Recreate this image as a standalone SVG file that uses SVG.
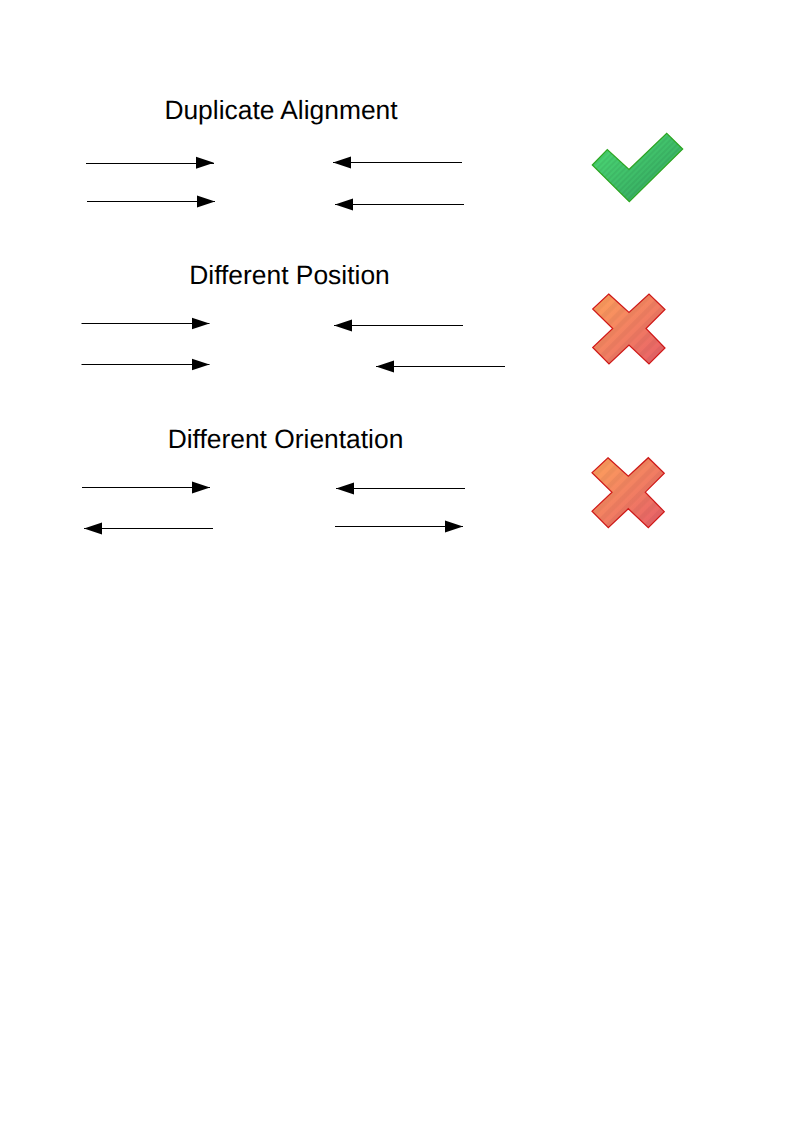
<svg xmlns="http://www.w3.org/2000/svg" width="794" height="1123" viewBox="0 0 794 1123">
<style>
.t{font-family:"Liberation Sans",Arial,sans-serif;font-size:26.400px;fill:#000;text-rendering:geometricPrecision}
.c{stroke:#000;stroke-width:1;fill:none;marker-end:url(#a)}
.c1{marker-end:url(#a1)}
</style>
<defs>
<marker id="a" markerUnits="userSpaceOnUse" markerWidth="20" markerHeight="14" refX="18" refY="7" orient="auto"><path d="M0 1L18 7L0 13Z" fill="#000"/></marker>
<marker id="a1" markerUnits="userSpaceOnUse" markerWidth="20" markerHeight="14" refX="18" refY="7.800" orient="auto"><path d="M0 1L18 7L0 13Z" fill="#000"/></marker>
<linearGradient id="g" gradientUnits="objectBoundingBox" x1="0" y1="0" x2="1" y2="1"><stop offset="0" stop-color="#50e078"/><stop offset="1" stop-color="#2f9f5c"/></linearGradient>
<linearGradient id="r" gradientUnits="objectBoundingBox" x1="0" y1="0" x2="1" y2="1"><stop offset="0" stop-color="#ffa45c"/><stop offset="1" stop-color="#e65c68"/></linearGradient>
<pattern id="p" patternUnits="userSpaceOnUse" width="9" height="9" patternTransform="rotate(45)"><rect width="4.500" height="9" fill="#000" fill-opacity=".045"/></pattern>
<pattern id="q" patternUnits="userSpaceOnUse" width="4" height="4" patternTransform="rotate(45)"><rect width="2" height="4" fill="#000" fill-opacity=".06"/></pattern>
<path id="x" d="M608.700 294L629 312.500L649 294L665 309.500L646 328.500L665 348L649 364L629 345L609 364L592.700 347.500L612.700 328.500L592.700 309Z"/>
</defs>
<rect width="794" height="1123" fill="#fff"/>
<g id="label-duplicate"><text class="t" x="281" y="119" text-anchor="middle">Duplicate Alignment</text></g>
<g id="label-position"><text class="t" x="289.500" y="284" text-anchor="middle">Different Position</text></g>
<g id="label-orientation"><text class="t" x="285.500" y="448" text-anchor="middle">Different Orientation</text></g>
<g id="connectors">
<path class="c c1" d="M86 163.500H214"/>
<path class="c" d="M87 201.500H215"/>
<path class="c" d="M462 162.500H333"/>
<path class="c" d="M464 204.500H335"/>
<path class="c" d="M81.500 323.500H209.500"/>
<path class="c" d="M81.500 364.500H209.500"/>
<path class="c" d="M463 325.500H334"/>
<path class="c" d="M505 366.500H376"/>
<path class="c" d="M82 487.500H210"/>
<path class="c" d="M213 528.500H84"/>
<path class="c" d="M465 488.500H336"/>
<path class="c" d="M335 526.500H463"/>
</g>
<g id="check">
<path d="M592.300 165L607.300 149.500L629 169.500L666.700 133.300L682.700 149L629.300 201.700Z" fill="url(#g)" stroke="#2ca820" stroke-width="1.200"/>
<path d="M592.300 165L607.300 149.500L629 169.500L666.700 133.300L682.700 149L629.300 201.700Z" fill="url(#q)"/>
</g>
<g id="cross-position">
<use href="#x" fill="url(#r)" stroke="#d01818" stroke-width="1.200"/>
<use href="#x" fill="url(#p)"/>
</g>
<g id="cross-orientation" transform="translate(-.7 163.700)">
<use href="#x" fill="url(#r)" stroke="#d01818" stroke-width="1.200"/>
<use href="#x" fill="url(#p)"/>
</g>
</svg>
